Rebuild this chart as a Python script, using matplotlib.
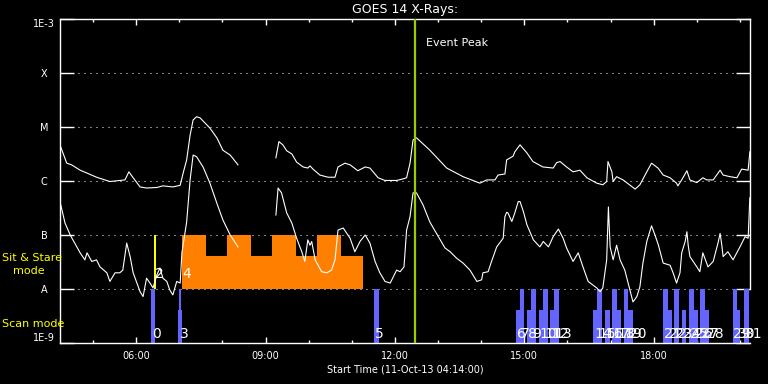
import numpy as np
import matplotlib
matplotlib.use('Agg')
import matplotlib.pyplot as plt
from matplotlib.ticker import FixedLocator, FuncFormatter, NullLocator

## GOES 14 XRS light curves, 11-Oct-13
## time in UT hours, flux as log10(W m^-2); nan marks the data gap
t_long = [4.25, 4.39, 4.50, 4.70, 4.85, 5.08, 5.39, 5.62, 5.74, 5.83,
          5.93, 6.09, 6.24, 6.48, 6.62, 6.85, 7.02, 7.09, 7.17, 7.25,
          7.32, 7.40, 7.48, 7.71, 7.87, 8.01, 8.18, 8.36, np.nan,
          9.24, 9.31, 9.40, 9.49, 9.61, 9.72, 9.87, 9.98, 10.03, 10.10,
          10.26, 10.45, 10.61, 10.68, 10.84, 10.96, 11.14, 11.31, 11.42, 11.61,
          11.77, 12.04, 12.19, 12.27, 12.35, 12.42, 12.50, 12.81, 13.20, 13.58,
          13.97, 14.13, 14.32, 14.39, 14.55, 14.59, 14.74, 14.78, 14.90, 15.06,
          15.20, 15.43, 15.67, 15.75, 15.83, 15.98, 16.13, 16.29, 16.45, 16.68,
          16.82, 16.91, 16.94, 17.03, 17.06, 17.14, 17.29, 17.57, 17.68, 17.84,
          17.95, 18.10, 18.22, 18.38, 18.53, 18.56, 18.65, 18.77, 18.84, 19.00,
          19.14, 19.23, 19.38, 19.46, 19.54, 19.61, 19.77, 19.93, 20.04, 20.19,
          20.23]
logf_long = [-5.37, -5.67, -5.70, -5.80, -5.85, -5.93, -6.01, -5.99, -5.98, -5.83,
             -5.94, -6.11, -6.13, -6.12, -6.09, -6.11, -6.08, -5.85, -5.61, -5.15,
             -4.87, -4.81, -4.83, -5.02, -5.20, -5.43, -5.52, -5.70, np.nan,
             -5.57, -5.27, -5.33, -5.44, -5.50, -5.65, -5.74, -5.76, -5.72, -5.78,
             -5.89, -5.93, -5.93, -5.74, -5.67, -5.70, -5.81, -5.74, -5.76, -5.94,
             -5.99, -5.99, -5.96, -5.94, -5.67, -5.24, -5.20, -5.43, -5.76, -5.92,
             -6.04, -5.98, -5.98, -5.89, -5.87, -5.61, -5.54, -5.46, -5.33, -5.48,
             -5.64, -5.74, -5.76, -5.66, -5.64, -5.74, -5.83, -5.80, -5.94, -6.04,
             -6.07, -6.01, -5.64, -5.83, -6.01, -5.92, -5.98, -6.15, -6.07, -5.83,
             -5.67, -5.76, -5.89, -5.94, -6.04, -6.09, -5.98, -5.81, -5.98, -6.03,
             -5.94, -5.98, -5.98, -5.89, -5.80, -5.89, -5.92, -5.94, -5.78, -5.80,
             -5.46]

t_short = [4.25, 4.35, 4.47, 4.70, 4.81, 4.86, 4.97, 5.08, 5.16, 5.32,
           5.39, 5.51, 5.62, 5.69, 5.78, 5.86, 5.93, 6.09, 6.16, 6.24,
           6.32, 6.39, 6.48, 6.55, 6.62, 6.71, 6.78, 6.85, 6.94, 7.02,
           7.06, 7.13, 7.17, 7.25, 7.32, 7.40, 7.55, 7.71, 7.87, 8.01,
           8.18, 8.36, np.nan,
           9.24, 9.29, 9.37, 9.49, 9.61, 9.72, 9.84, 9.91, 9.98, 10.03,
           10.07, 10.15, 10.30, 10.42, 10.53, 10.61, 10.68, 10.80, 10.96, 11.07,
           11.19, 11.31, 11.42, 11.54, 11.65, 11.77, 11.89, 12.04, 12.12, 12.21,
           12.27, 12.35, 12.42, 12.50, 12.65, 12.81, 12.97, 13.16, 13.28, 13.43,
           13.58, 13.74, 13.90, 14.01, 14.04, 14.16, 14.24, 14.36, 14.51, 14.55,
           14.59, 14.62, 14.71, 14.78, 14.86, 14.90, 14.98, 15.06, 15.21, 15.36,
           15.44, 15.56, 15.67, 15.79, 15.90, 15.98, 16.13, 16.25, 16.36, 16.48,
           16.68, 16.76, 16.82, 16.91, 16.95, 16.99, 17.06, 17.14, 17.22, 17.33,
           17.45, 17.52, 17.61, 17.68, 17.75, 17.84, 17.95, 18.03, 18.11, 18.22,
           18.38, 18.45, 18.53, 18.61, 18.65, 18.73, 18.77, 18.80, 18.84, 19.00,
           19.07, 19.14, 19.26, 19.38, 19.50, 19.54, 19.58, 19.61, 19.72, 19.84,
           20.00, 20.12, 20.19, 20.23]
logf_short = [-6.44, -6.78, -7.00, -7.33, -7.46, -7.33, -7.49, -7.46, -7.59, -7.70,
              -7.86, -7.70, -7.70, -7.65, -7.15, -7.40, -7.70, -8.05, -8.14, -7.80,
              -7.89, -7.98, -7.74, -7.61, -7.80, -7.86, -8.02, -8.11, -7.86, -7.89,
              -7.33, -6.96, -6.76, -5.98, -5.52, -5.55, -5.74, -6.04, -6.41, -6.72,
              -7.00, -7.22, np.nan,
              -6.63, -6.13, -6.22, -6.59, -6.78, -7.06, -7.31, -7.49, -7.09, -7.19,
              -7.12, -7.46, -7.68, -7.70, -7.65, -7.46, -6.91, -6.87, -7.06, -7.31,
              -7.12, -7.00, -7.15, -7.49, -7.70, -7.86, -7.89, -7.65, -7.68, -7.59,
              -6.91, -6.66, -6.22, -6.22, -6.44, -6.76, -6.98, -7.24, -7.31, -7.43,
              -7.52, -7.65, -7.86, -7.83, -7.70, -7.68, -7.49, -7.22, -7.06, -6.66,
              -6.58, -6.59, -6.75, -6.59, -6.38, -6.38, -6.57, -6.81, -7.09, -7.22,
              -7.12, -7.22, -7.03, -6.89, -7.06, -7.24, -7.49, -7.33, -7.59, -7.86,
              -7.98, -8.05, -7.98, -7.46, -6.48, -7.22, -7.46, -7.19, -7.46, -7.65,
              -8.02, -8.24, -8.14, -7.96, -7.52, -7.12, -6.83, -7.00, -7.19, -7.52,
              -7.56, -7.70, -7.89, -7.70, -7.33, -7.12, -6.94, -7.19, -7.40, -7.59,
              -7.68, -7.33, -7.59, -7.49, -7.12, -6.97, -7.19, -7.40, -7.31, -7.46,
              -7.22, -7.03, -7.06, -6.31]

peak_time = 12.46

## Sit & stare observations
sit_label = ['2', '4']
sit_start = [6.41, 7.06]
sit2_end = 6.47
stare_edges = [7.06, 7.62, 8.11, 8.66, 9.15, 9.71, 10.19, 10.75, 11.26]
stare_top = [1e-7, 4.1e-8, 1e-7, 4.1e-8, 1e-7, 4.1e-8, 1e-7, 4.1e-8]

## Scan observations ('' = unlabelled part of a raster)
scan_label = ['0', '', '3', '5', '6', '7', '8', '9', '10', '11',
              '12', '13', '14', '15', '16', '17', '18', '19', '20', '21',
              '22', '23', '24', '25', '26', '27', '28', '29', '30', '31']
scan_start = [6.34, 6.96, 7.00, 11.51, 14.81, 14.90, 15.06, 15.16, 15.34, 15.44,
              15.60, 15.69, 16.60, 16.69, 16.87, 17.03, 17.14, 17.31, 17.41, 18.22,
              18.33, 18.47, 18.65, 18.82, 18.93, 19.07, 19.19, 19.83, 19.94, 20.10]
scan_end = [6.44, 7.06, 7.04, 11.63, 14.90, 15.00, 15.16, 15.26, 15.44, 15.56,
            15.69, 15.80, 16.69, 16.79, 16.99, 17.14, 17.24, 17.41, 17.51, 18.33,
            18.42, 18.59, 18.74, 18.93, 19.03, 19.19, 19.28, 19.94, 20.00, 20.22]
scan_top = [1e-8, 4e-9, 1e-8, 1e-8, 4e-9, 1e-8, 4e-9, 1e-8, 4e-9, 1e-8,
            4e-9, 1e-8, 4e-9, 1e-8, 4e-9, 1e-8, 4e-9, 1e-8, 4e-9, 1e-8,
            4e-9, 1e-8, 4e-9, 1e-8, 4e-9, 1e-8, 4e-9, 1e-8, 4e-9, 1e-8]

level_flux = [1e-9, 1e-8, 1e-7, 1e-6, 1e-5, 1e-4, 1e-3]
level_name = ['1E-9', 'A', 'B', 'C', 'M', 'X', '1E-3']

t_start, t_end = 4 + 14/60., 20 + 14/60.

fig = plt.figure(figsize=(7.68, 3.84), dpi=100, facecolor='k')
ax = fig.add_axes([60/768., 41/384., 690/768., 324/384.], facecolor='k')
ax.set_yscale('log')
ax.set_xlim(t_start, t_end)
ax.set_ylim(1e-9, 1e-3)
ax.set_axisbelow(True)

## Observation blocks
ax.stairs(stare_top, stare_edges, baseline=1e-8, fill=True, color='#ff8000', lw=0)
ax.bar(sit_start[0], 1e-7 - 1e-8, width=sit2_end - sit_start[0], bottom=1e-8,
       align='edge', color='#ffff00', lw=0)
ax.bar(scan_start, np.array(scan_top) - 1e-9, width=np.array(scan_end) - np.array(scan_start),
       bottom=1e-9, align='edge', color='#6464ff', lw=0)

## Light curves
ax.plot(t_long, 10**np.array(logf_long), color='w', lw=0.8, zorder=3)
ax.plot(t_short, 10**np.array(logf_short), color='w', lw=0.8, zorder=3)
ax.axvline(peak_time, color='#9acd00', lw=1.6, zorder=4)
ax.text(peak_time + 0.27, 10**-3.44, 'Event Peak', color='w', fontsize=8, va='center')

## Observation numbers
for lab, t0 in zip(sit_label, sit_start):
    ax.text(t0 + 0.02, 10**-7.8, lab, color='w', fontsize=10, va='baseline', zorder=5)
for lab, t0 in zip(scan_label, scan_start):
    if lab:
        ax.text(t0 + 0.02, 10**-8.91, lab, color='w', fontsize=10, va='baseline', zorder=5)

## Axes formatting
for s in ax.spines.values():
    s.set_color('w'); s.set_linewidth(1.0)
ax.spines['right'].set_bounds(1e-8, 1e-3)
ax.yaxis.set_major_locator(FixedLocator(level_flux))
ax.yaxis.set_minor_locator(NullLocator())
ax.set_yticklabels(level_name)
ax.xaxis.set_major_locator(FixedLocator([6, 9, 12, 15, 18]))
ax.xaxis.set_minor_locator(FixedLocator(np.arange(5, 21)))
ax.xaxis.set_major_formatter(FuncFormatter(lambda v, p: '%02d:00' % round(v)))
ax.tick_params(axis='y', which='major', direction='in', length=10, width=1,
               left=True, right=True, colors='w', labelsize=7, pad=11.5)
ax.tick_params(axis='x', which='major', direction='in', length=4.3, width=1,
               top=True, bottom=True, colors='w', labelsize=7, pad=6)
ax.tick_params(axis='x', which='minor', direction='in', length=2.5, width=1,
               top=True, bottom=True, colors='w')
for lab in ax.get_yticklabels():
    lab.set_ha('center')
ax.get_yticklabels()[0].set_va('bottom')
ax.get_yticklabels()[-1].set_va('top')
ax.grid(axis='y', color='w', lw=0.72, linestyle=(0, (1, 5)))

ax.set_title('GOES 14 X-Rays:', color='w', fontsize=9, pad=4)
ax.set_xlabel('Start Time (11-Oct-13 04:14:00)', color='w', fontsize=7, labelpad=2)

fig.text(2/768., 1 - 258/384., 'Sit & Stare', color='#ffff00', fontsize=8, va='center')
fig.text(13/768., 1 - 271/384., 'mode', color='#ffff00', fontsize=8, va='center')
fig.text(2/768., 1 - 324/384., 'Scan mode', color='#ffff00', fontsize=8, va='center')

fig.savefig('out.png', dpi=100, facecolor='k')
